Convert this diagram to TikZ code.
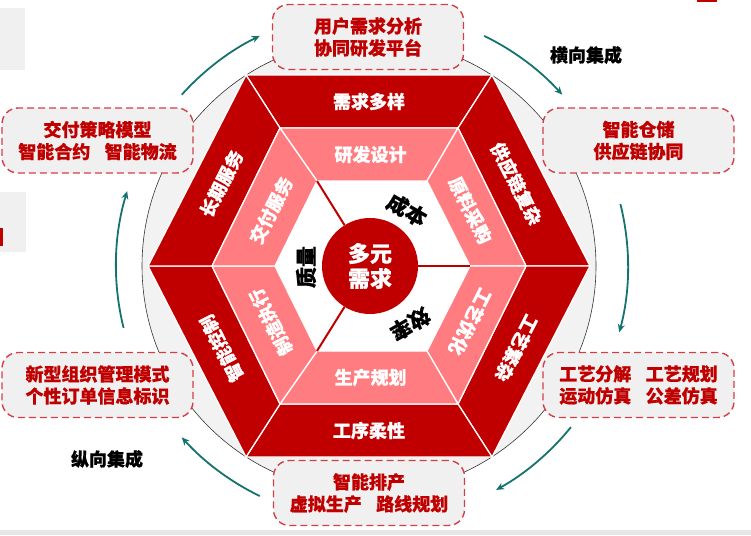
\documentclass[tikz,border=0pt]{standalone}
\usepackage{fontspec}
\setmainfont{Noto Sans CJK SC}[BoldFeatures={FakeBold=0.6}]
\usetikzlibrary{arrows.meta,calc}
\definecolor{dred}{RGB}{192,0,0}
\definecolor{pinkr}{RGB}{255,124,128}
\definecolor{boxfill}{RGB}{240,240,240}
\definecolor{boxline}{RGB}{212,62,72}
\definecolor{tealc}{RGB}{20,115,110}
\definecolor{circfill}{RGB}{242,242,242}
\definecolor{stripgray}{RGB}{230,230,230}
\begin{document}
\begin{tikzpicture}[x=1pt,y=-1pt,
  darkseg/.style={fill=dred,draw=white,line width=1.3pt,line join=miter},
  pinkseg/.style={fill=pinkr,draw=white,line width=1.3pt,line join=miter},
  ringlbl/.style={text=white,font=\fontsize{18}{20}\selectfont\bfseries,inner sep=0pt},
  ctrlbl/.style={text=black,font=\fontsize{21}{23}\selectfont\bfseries,inner sep=0pt},
  sidelbl/.style={text=black,font=\fontsize{18}{20}\selectfont\bfseries,inner sep=0pt},
  callout/.style={draw=boxline,fill=boxfill,line width=1.4pt,dash pattern=on 7pt off 4pt,
    rounded corners=16pt,minimum width=191pt,minimum height=65pt,align=center,
    text=dred,font=\fontsize{18}{22}\selectfont\bfseries,inner sep=2pt},
  redline/.style={draw=dred,line width=2pt},
  tealarr/.style={draw=tealc,line width=1.8pt,-{Stealth[length=8pt,width=7pt]}}
]
\useasboundingbox (0,0) rectangle (751,535);
% slide fragments at the edges
\fill[boxfill] (0,8) rectangle (25,70);
\fill[boxfill] (0,192) rectangle (26,252);
\fill[dred] (0,228) rectangle (2.5,246);
\fill[dred] (697,0) rectangle (717,2);
\fill[stripgray] (0,530) rectangle (751,535);

% big grey circle
\coordinate (ctr) at (369,266);
\node[circle,draw=black!80,line width=0.6pt,fill=circfill,minimum size=454pt,inner sep=0pt] (ring) at (ctr) {};

% hexagon corners
\coordinate (oL) at (148,266); \coordinate (oTL) at (246,75); \coordinate (oTR) at (492,75);
\coordinate (oR) at (590,266); \coordinate (oBR) at (492,457); \coordinate (oBL) at (246,457);
\coordinate (mL) at (212,266); \coordinate (mTL) at (280,128); \coordinate (mTR) at (458,128);
\coordinate (mR) at (526,266); \coordinate (mBR) at (458,404); \coordinate (mBL) at (280,404);
\coordinate (iL) at (275,266); \coordinate (iTL) at (317,181); \coordinate (iTR) at (427,181);
\coordinate (iR) at (470,266); \coordinate (iBR) at (427,351); \coordinate (iBL) at (317,351);

% dark ring
\path[darkseg] (oTL)--(oTR)--(mTR)--(mTL)--cycle;
\path[darkseg] (oTR)--(oR)--(mR)--(mTR)--cycle;
\path[darkseg] (oR)--(oBR)--(mBR)--(mR)--cycle;
\path[darkseg] (oBR)--(oBL)--(mBL)--(mBR)--cycle;
\path[darkseg] (oBL)--(oL)--(mL)--(mBL)--cycle;
\path[darkseg] (oL)--(oTL)--(mTL)--(mL)--cycle;
% pink ring
\path[pinkseg] (mTL)--(mTR)--(iTR)--(iTL)--cycle;
\path[pinkseg] (mTR)--(mR)--(iR)--(iTR)--cycle;
\path[pinkseg] (mR)--(mBR)--(iBR)--(iR)--cycle;
\path[pinkseg] (mBR)--(mBL)--(iBL)--(iBR)--cycle;
\path[pinkseg] (mBL)--(mL)--(iL)--(iBL)--cycle;
\path[pinkseg] (mL)--(mTL)--(iTL)--(iL)--cycle;
% inner white hexagon
\fill[white] (iL)--(iTL)--(iTR)--(iR)--(iBR)--(iBL)--cycle;

% centre
\node[circle,fill=dred,minimum size=96pt,inner sep=0pt,align=center,text=white,
  font=\fontsize{22}{25}\selectfont\bfseries] (cc) at (370,266) {多元\\需求};
\draw[redline] (cc) -- (iTL);
\draw[redline] (cc) -- (iR);
\draw[redline] (cc) -- (iBL);

\node[ctrlbl,rotate=-30] (q1) at (407,210) {成本};
\node[ctrlbl,rotate=210] (q2) at (410,324) {效率};
\node[ctrlbl,rotate=90] (q3) at (306,267) {质量};

% dark ring labels
\node[ringlbl] (t1) at (369,101.5) {需求多样};
\node[ringlbl,rotate=-63] (t2) at (516.5,183.75) {供应链复杂};
\node[ringlbl,rotate=-117] (t3) at (516.5,348.25) {工艺繁杂};
\node[ringlbl] (t4) at (369,430.5) {工序柔性};
\node[ringlbl,rotate=117] (t5) at (221.5,348.25) {智能控制};
\node[ringlbl,rotate=63] (t6) at (221.5,183.75) {长期服务};
% pink ring labels
\node[ringlbl] (p1) at (370.5,154.5) {研发设计};
\node[ringlbl,rotate=-63] (p2) at (470.25,210.25) {原料采购};
\node[ringlbl,rotate=-117] (p3) at (470.25,321.75) {工艺优化};
\node[ringlbl] (p4) at (370.5,377.5) {生产规划};
\node[ringlbl,rotate=117] (p5) at (271,321.75) {制造执行};
\node[ringlbl,rotate=63] (p6) at (271,210.25) {交付服务};

% callouts
\node[callout] (b1) at (368,37) {用户需求分析\\协同研发平台};
\node[callout] (b2) at (638.5,140.5) {智能仓储\\供应链协同};
\node[callout] (b3) at (638.5,385) {工艺分解\hspace{0.8em}工艺规划\\运动仿真\hspace{0.8em}公差仿真};
\node[callout] (b4) at (369,493) {智能排产\\虚拟生产\hspace{0.8em}路线规划};
\node[callout] (b5) at (97.5,385) {新型组织管理模式\\个性订单信息标识};
\node[callout] (b6) at (97.5,140.5) {交付策略模型\\智能合约\hspace{0.8em}智能物流};

% teal circulation arrows
\coordinate (ac) at (372,266);
\draw[tealarr] ($(ac)+(138:256pt)$) arc[start angle=138,end angle=116,radius=256pt];
\draw[tealarr] ($(ac)+(64:256pt)$) arc[start angle=64,end angle=42,radius=256pt];
\draw[tealarr] ($(ac)+(14:256pt)$) arc[start angle=14,end angle=-15,radius=256pt];
\draw[tealarr] ($(ac)+(-39:256pt)$) arc[start angle=-39,end angle=-61,radius=256pt];
\draw[tealarr] ($(ac)+(-116:256pt)$) arc[start angle=-116,end angle=-138,radius=256pt];
\draw[tealarr] ($(ac)+(194:256pt)$) arc[start angle=194,end angle=163,radius=256pt];

\node[sidelbl] (h1) at (586,55) {横向集成};
\node[sidelbl] (h2) at (107,459) {纵向集成};
\end{tikzpicture}
\end{document}
